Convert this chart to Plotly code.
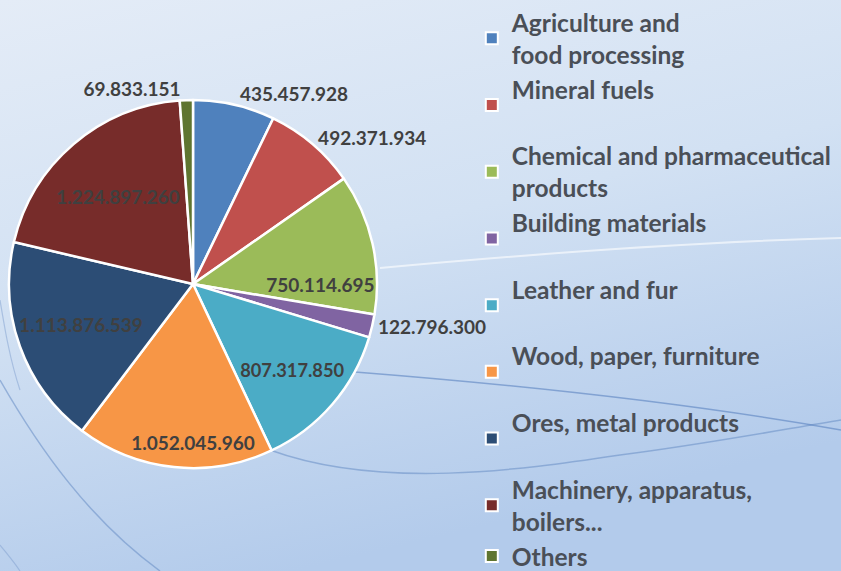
import base64
import plotly.graph_objects as go

categories = [
    "Agriculture and<br>food processing",
    "Mineral fuels<br> ",
    "Chemical and pharmaceutical<br>products",
    "Building materials<br> ",
    "Leather and fur<br> ",
    "Wood, paper, furniture<br> ",
    "Ores, metal products<br> ",
    "Machinery, apparatus,<br>boilers...",
    "Others",
]
values = [435457928, 492371934, 750114695, 122796300, 807317850,
          1052045960, 1113876539, 1224897260, 69833151]
value_labels = ["435.457.928", "492.371.934", "750.114.695", "122.796.300",
                "807.317.850", "1.052.045.960", "1.113.876.539",
                "1.224.897.260", "69.833.151"]
text_positions = ["outside", "outside", "inside", "outside", "inside",
                  "inside", "inside", "inside", "outside"]
colors = ["#4F81BD", "#C0504D", "#9BBB59", "#8064A2", "#4BACC6",
          "#F79646", "#2C4D75", "#772C2A", "#5F7530"]

# decorative background (gradient + faint swooshes)
bg_svg = """<svg xmlns='http://www.w3.org/2000/svg' width='841' height='571' viewBox='0 0 841 571'>
<defs><linearGradient id='g' x1='0' y1='0' x2='0.35' y2='1'>
<stop offset='0' stop-color='#E4ECF7'/><stop offset='0.5' stop-color='#D2E1F3'/>
<stop offset='1' stop-color='#B3CBEB'/></linearGradient></defs>
<rect width='841' height='571' fill='url(#g)'/>
<path d='M0,380 C40,450 90,520 160,571' stroke='#6E93C8' stroke-width='1.5' fill='none' opacity='0.6'/>
<path d='M0,545 C8,555 14,562 20,571' stroke='#7FA0D0' stroke-width='1.2' fill='none' opacity='0.5'/>
<path d='M0,300 C5,330 10,360 20,390' stroke='#7FA0D0' stroke-width='1.2' fill='none' opacity='0.5'/>
<path d='M270,450 C380,490 520,470 620,455 C700,445 780,430 841,420' stroke='#6E93C8' stroke-width='1.5' fill='none' opacity='0.6'/>
<path d='M355,372 C520,385 700,405 841,430' stroke='#5A82C0' stroke-width='1.5' fill='none' opacity='0.6'/>
<path d='M380,268 C520,255 700,242 841,238' stroke='#FFFFFF' stroke-width='2' fill='none' opacity='0.6'/>
</svg>"""
bg_uri = "data:image/svg+xml;base64," + base64.b64encode(bg_svg.encode()).decode()

fig = go.Figure(go.Pie(
    labels=categories,
    values=values,
    text=value_labels,
    textinfo="text",
    textposition=text_positions,
    insidetextorientation="horizontal",
    sort=False,
    direction="clockwise",
    rotation=0,
    marker=dict(colors=colors, line=dict(color="white", width=2.5)),
    textfont=dict(family="Lato", size=19, color="#404040", weight="bold"),
    insidetextfont=dict(family="Lato", size=19, color="#404040", weight="bold"),
    outsidetextfont=dict(family="Lato", size=19, color="#404040", weight="bold"),
    domain=dict(x=[0.0107, 0.4483], y=[0.180, 0.825]),
    hoverinfo="label+text",
))

legend = dict(
    x=0.561, y=1.0, xanchor="left", yanchor="top",
    font=dict(family="Lato", size=24.5, color="#4A4F57", weight="bold"),
    bgcolor="rgba(0,0,0,0)",
    itemsizing="constant",
    tracegroupgap=0,
)

fig.update_layout(
    width=841, height=571,
    margin=dict(l=0, r=0, t=0, b=0),
    paper_bgcolor="#D6E3F4",
    plot_bgcolor="#D6E3F4",
    showlegend=True,
    images=[dict(source=bg_uri, xref="paper", yref="paper", x=0, y=1,
                 sizex=1, sizey=1, xanchor="left", yanchor="top",
                 sizing="stretch", layer="below")],
    legend=legend,
)

post = (
    "document.body.style.margin='0';"
    "var st=document.createElement('style');"
    "st.textContent='.legend .scrollbar{display:none !important;}';"
    "document.head.appendChild(st);"
)
fig.write_html("out.html", config={"displayModeBar": False}, post_script=post)
